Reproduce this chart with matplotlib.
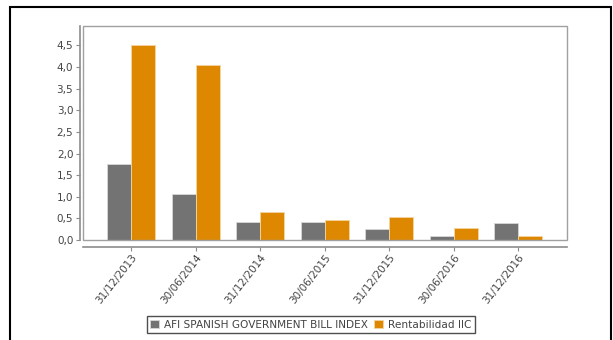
import numpy as np
import matplotlib
matplotlib.use('Agg')
import matplotlib.pyplot as plt
from matplotlib.patches import Rectangle

# data
fechas = ['31/12/2013', '30/06/2014', '31/12/2014', '30/06/2015',
          '31/12/2015', '30/06/2016', '31/12/2016']
indice = [1.75, 1.07, 0.41, 0.41, 0.25, 0.085, 0.39]
rentab = [4.50, 4.04, 0.64, 0.47, 0.54, 0.27, 0.085]
yticks = [0.0, 0.5, 1.0, 1.5, 2.0, 2.5, 3.0, 3.5, 4.0, 4.5]
ytick_labels = ['0,0', '0,5', '1,0', '1,5', '2,0', '2,5', '3,0', '3,5', '4,0', '4,5']

gris = '#737373'
naranja = '#dd8800'
txt = '#444444'

fig = plt.figure(figsize=(6.13, 3.4), dpi=100)
ax = fig.add_axes([83/613, 1-240/340, (567-83)/613, (240-26)/340])

x = np.arange(len(fechas))
w = 0.372
ax.bar(x - w/2, indice, w, color=gris, edgecolor='#d8d8d8', linewidth=0.6,
       label='AFI SPANISH GOVERNMENT BILL INDEX')
ax.bar(x + w/2, rentab, w, color=naranja, edgecolor='#f3d6a0', linewidth=0.6,
       label='Rentabilidad IIC')

ax.set_xlim(-0.745, 6.755)
ax.set_ylim(0, 4.95)

for s in ['top', 'right']:
    ax.spines[s].set_visible(False)
ax.spines['left'].set_position(('outward', 2))
ax.spines['bottom'].set_position(('outward', 5))
for s in ['left', 'bottom']:
    ax.spines[s].set_color('#8c8c8c')
    ax.spines[s].set_linewidth(1.2)
ax.add_patch(Rectangle((0, 0), 1, 1, transform=ax.transAxes, fill=False,
                       edgecolor='#a0a0a0', linewidth=1.0, clip_on=False))

ax.tick_params(axis='both', colors='#8c8c8c', labelcolor=txt, labelsize=7.5,
               length=3, width=0.8)
ax.tick_params(axis='x', pad=1)
ax.tick_params(axis='y', pad=2)

ax.set_yticks(yticks)
ax.set_yticklabels(ytick_labels)
ax.set_xticks(x)
ax.set_xticklabels(fechas)
plt.setp(ax.get_xticklabels(), rotation=52, ha='right', va='top',
         rotation_mode='anchor')

leg = fig.legend(loc='center', bbox_to_anchor=(311/613, 1-324.5/340), ncol=2,
                 fontsize=7.6, frameon=True, fancybox=False, handlelength=0.8,
                 handleheight=0.8, handletextpad=0.5, columnspacing=0.6,
                 borderpad=0.35, borderaxespad=0)
leg.get_frame().set_edgecolor('#222222')
leg.get_frame().set_linewidth(1.0)
for t in leg.get_texts():
    t.set_color(txt)

# outer frame
fig.add_artist(Rectangle((10/613, -0.02), (611-10)/613, 1-7/340+0.02,
                         transform=fig.transFigure, fill=False,
                         edgecolor='black', linewidth=1.5))

fig.savefig('out.png', dpi=100)
